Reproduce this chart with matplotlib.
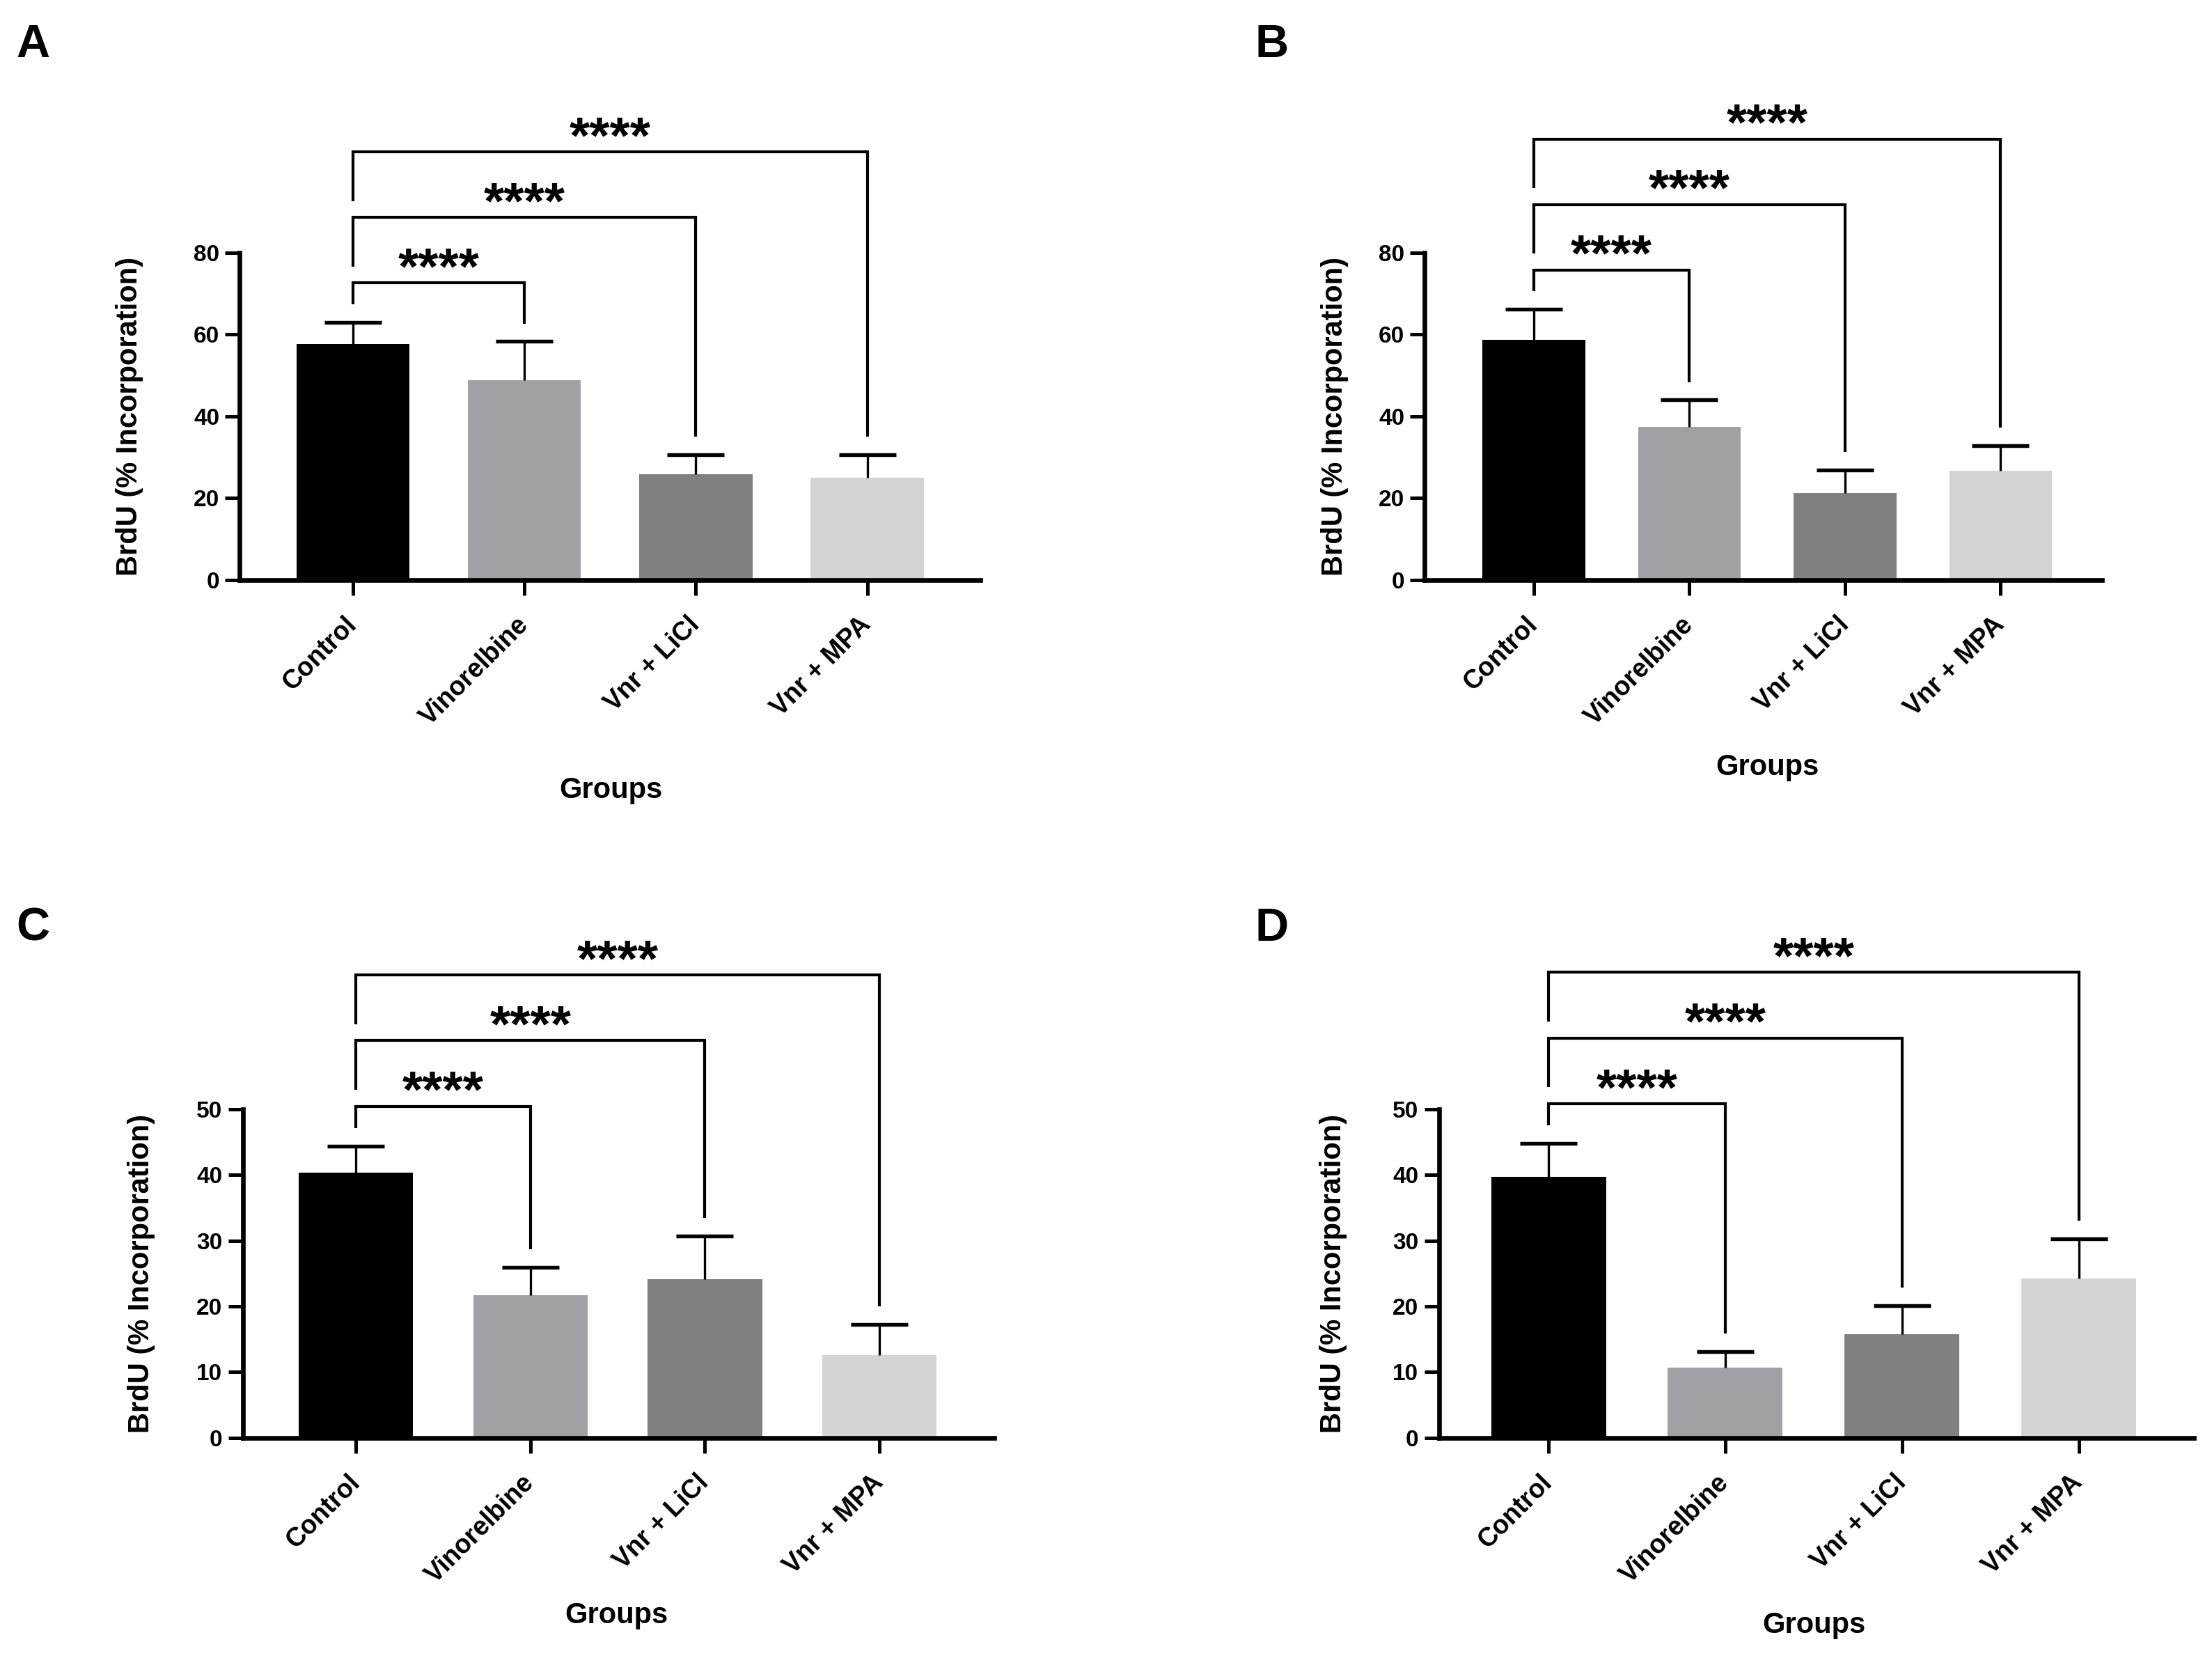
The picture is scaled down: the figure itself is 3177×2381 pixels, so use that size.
import numpy as np
import matplotlib
matplotlib.use("Agg")
import matplotlib.pyplot as plt

plt.rcParams['font.family'] = ['Liberation Sans', 'DejaVu Sans']
plt.rcParams['font.weight'] = 'bold'

# ---------------- data ----------------
groups = ["Control", "Vinorelbine", "Vnr + LiCl", "Vnr + MPA"]
bar_colors = ["#000000", "#a1a1a5", "#808080", "#d4d4d4"]

a_mean = [57.7, 48.9, 25.8, 25.0]
a_sem = [5.3, 9.4, 4.8, 5.6]
b_mean = [58.7, 37.4, 21.2, 26.7]
b_sem = [7.5, 6.6, 5.7, 6.1]
c_mean = [40.3, 21.7, 24.1, 12.6]
c_sem = [4.1, 4.2, 6.6, 4.6]
d_mean = [39.7, 10.7, 15.8, 24.2]
d_sem = [5.1, 2.4, 4.3, 6.1]

a_ymax, b_ymax, c_ymax, d_ymax = 80, 80, 50, 50
a_step, b_step, c_step, d_step = 20, 20, 10, 10
sig_labels = ["****", "****", "****"]

ylabel = "BrdU (% Incorporation)"
xlabel = "Groups"

# ---------------- layout ----------------
W, H = 3177, 2381
fig = plt.figure(figsize=(W / 300, H / 300), dpi=300)

panels = [
    dict(letter="A", mean=a_mean, sem=a_sem, ymax=a_ymax, step=a_step,
         rect=[0.1084, 0.6502, 0.3348, 0.1974], xlim=(-0.66, 3.66), width=0.66,
         letter_xy=(0.0072, 0.9656), xl=(0.2761, 0.5234), yl=0.0587),
    dict(letter="B", mean=b_mean, sem=b_sem, ymax=b_ymax, step=b_step,
         rect=[0.6441, 0.6502, 0.3061, 0.1974], xlim=(-0.70, 3.65), width=0.66,
         letter_xy=(0.5675, 0.9656), xl=(0.7991, 0.5370), yl=0.6033),
    dict(letter="C", mean=c_mean, sem=c_sem, ymax=c_ymax, step=c_step,
         rect=[0.1097, 0.1328, 0.3399, 0.1983], xlim=(-0.65, 3.66), width=0.655,
         letter_xy=(0.0072, 0.4326), xl=(0.2787, 0.0255), yl=0.0638),
    dict(letter="D", mean=d_mean, sem=d_sem, ymax=d_ymax, step=d_step,
         rect=[0.6505, 0.1328, 0.3412, 0.1983], xlim=(-0.62, 3.65), width=0.65,
         letter_xy=(0.5675, 0.4326), xl=(0.8202, 0.0196), yl=0.6027),
]

for p in panels:
    ax = fig.add_axes(p["rect"])
    x = np.arange(len(groups))
    mean = np.array(p["mean"])
    sem = np.array(p["sem"])
    ymax = p["ymax"]

    ax.bar(x, mean, width=p["width"], color=bar_colors, edgecolor="none", zorder=2)
    eb = ax.errorbar(x, mean, yerr=[np.zeros_like(sem), sem], fmt="none",
                     ecolor="black", elinewidth=0.8, capsize=9.8, capthick=1.3,
                     zorder=3)
    # one-sided (upper) error bars: hide the lower caps
    caps = eb[1]
    if len(caps) >= 2:
        caps[0].set_visible(False)

    ax.set_xlim(*p["xlim"])
    ax.set_ylim(0, ymax)
    ax.set_yticks(np.arange(0, ymax + 0.1, p["step"]))
    ax.set_xticks(x)
    ax.set_xticklabels(groups, rotation=45, ha="right", va="center",
                       rotation_mode="anchor", fontsize=9, fontweight="bold")
    for lab in ax.get_yticklabels():
        lab.set_fontsize(8)
        lab.set_fontweight("bold")

    for s in ["top", "right"]:
        ax.spines[s].set_visible(False)
    for s in ["left", "bottom"]:
        ax.spines[s].set_linewidth(1.6)
    ax.tick_params(axis="y", length=5, width=1.2, pad=2)
    ax.tick_params(axis="x", length=5.2, width=1.2, pad=9)

    # significance brackets: Control vs each treatment
    tops = mean + sem
    base = tops[0] + 0.12 * ymax
    prev = tops[0]
    gap_first = 0.055 * ymax
    for k, j in enumerate(range(1, len(groups))):
        h = base + k * 0.2 * ymax
        left_bottom = prev + (gap_first if k == 0 else 0.05 * ymax)
        right_bottom = tops[j] + 0.055 * ymax
        ax.plot([0, 0, j, j], [left_bottom, h, h, right_bottom],
                color="black", lw=1.0, clip_on=False, solid_joinstyle="miter",
                solid_capstyle="butt", zorder=4)
        ax.annotate(sig_labels[k], xy=(j / 2, h), xytext=(0, -0.2),
                    textcoords="offset points", ha="center", va="baseline",
                    fontsize=18, fontweight="bold", annotation_clip=False)
        prev = h

    fig.text(p["yl"], p["rect"][1] + p["rect"][3] / 2, ylabel, rotation=90,
             ha="center", va="center", fontsize=10, fontweight="bold")
    fig.text(p["xl"][0], p["xl"][1], xlabel, ha="center", va="center",
             fontsize=10, fontweight="bold")
    fig.text(p["letter_xy"][0], p["letter_xy"][1], p["letter"], ha="left",
             va="baseline", fontsize=16, fontweight="bold")

fig.savefig("out.png", dpi=300, facecolor="white")
